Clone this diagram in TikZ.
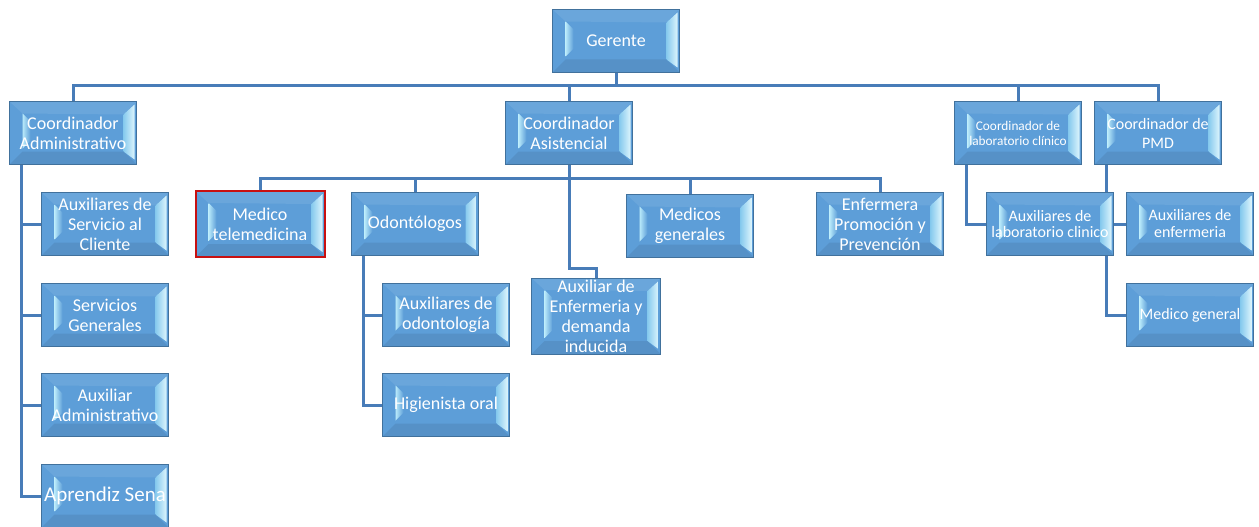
\documentclass[tikz,border=0pt]{standalone}
\usepackage{fontspec}
\setmainfont{Carlito}
\usepackage{tikz}
\usetikzlibrary{positioning,calc,backgrounds}
\definecolor{boxblue}{RGB}{93,158,216}
\definecolor{boxedge}{RGB}{65,113,156}
\definecolor{linkblue}{RGB}{72,124,184}
\definecolor{glowblue}{RGB}{185,234,250}
\definecolor{midblue}{RGB}{135,202,238}
\definecolor{markred}{RGB}{200,16,16}

\begin{document}
\begin{tikzpicture}[x=1pt, y=-1pt,
  cargo/.style={rectangle, draw=boxedge, line width=0.8pt, fill=boxblue,
    minimum width=127pt, minimum height=63pt, inner sep=0pt, align=center,
    text=white, font=\fontsize{18}{20}\selectfont,
    path picture={
      \coordinate (pnw) at (path picture bounding box.north west);
      \coordinate (pse) at (path picture bounding box.south east);
      \coordinate (pne) at (pnw -| pse);
      \coordinate (psw) at (pnw |- pse);
      \fill[boxblue!92!white] (pnw) -- (pne) -- ([shift={(-13pt,-13pt)}]pne) -- ([shift={(13pt,-12pt)}]pnw) -- cycle;
      \fill[boxblue!92!black] (psw) -- (pse) -- ([shift={(-13pt,13pt)}]pse) -- ([shift={(13pt,13pt)}]psw) -- cycle;
      \shade[left color=glowblue, right color=boxblue] ([shift={(13pt,-12pt)}]pnw) -- ([shift={(21pt,-20pt)}]pnw) -- ([shift={(21pt,24pt)}]psw) -- ([shift={(13pt,16pt)}]psw) -- cycle;
      \shade[left color=midblue, right color=glowblue!50!white] ([shift={(-13pt,-13pt)}]pne) -- ([shift={(-2pt,-3pt)}]pne) -- ([shift={(-2pt,5pt)}]pse) -- ([shift={(-13pt,13pt)}]pse) -- cycle;
    }},
  link/.style={draw=linkblue, line width=3pt}]
  \useasboundingbox (0,0) rectangle (1259,527);

  % top level
  \node[cargo] (gerente) at (616,41) {Gerente};
  \node[cargo] (cadmin) at (73,133) {Coordinador\\Administrativo};
  \node[cargo] (casist) at (569,133) {Coordinador\\Asistencial};
  \node[cargo, font=\fontsize{13.3}{15}\selectfont] (clab) at (1018,133) {Coordinador de\\laboratorio clínico};
  \node[cargo, font=\fontsize{16}{19}\selectfont] (cpmd) at (1158,133) {Coordinador de\\PMD};

  % administrative branch
  \node[cargo] (servcliente) at (105,224) {Auxiliares de\\Servicio al\\Cliente};
  \node[cargo] (servgen) at (105,315) {Servicios\\Generales};
  \node[cargo] (auxadmin) at (105,405) {Auxiliar\\Administrativo};
  \node[cargo, font=\fontsize{21}{24}\selectfont] (aprendiz) at (105,496) {Aprendiz Sena};

  % care branch
  \node[cargo, draw=markred, line width=2pt, minimum width=129pt, minimum height=66pt] (telemed) at (260,224) {Medico\\telemedicina};
  \node[cargo] (odont) at (415,224) {Odontólogos};
  \node[cargo, minimum width=129pt, minimum height=76pt] (auxenf) at (596,316) {Auxiliar de\\Enfermeria y\\demanda\\inducida};
  \node[cargo] (medgen) at (690,226) {Medicos\\generales};
  \node[cargo] (enfprom) at (880,224) {Enfermera\\Promoción y\\Prevención};
  \node[cargo] (auxodont) at (446,315) {Auxiliares de\\odontología};
  \node[cargo] (higienista) at (446,405) {Higienista oral};

  % lab and PMD
  \node[cargo, font=\fontsize{16}{16}\selectfont] (auxlab) at (1050,224) {Auxiliares de\\laboratorio clinico};
  \node[cargo, font=\fontsize{16}{17}\selectfont] (auxenfer) at (1190,224) {Auxiliares de\\enfermeria};
  \node[cargo, font=\fontsize{16}{17}\selectfont] (medgral) at (1190,315) {Medico general};

  \begin{scope}[on background layer]
    \draw[link] (gerente.south) -- ++(0,13) -| (cadmin.north);
    \draw[link] (gerente.south) -- ++(0,13) -| (casist.north);
    \draw[link] (gerente.south) -- ++(0,13) -| (clab.north);
    \draw[link] (gerente.south) -- ++(0,13) -| (cpmd.north);

    \draw[link] ([xshift=12pt]cadmin.south west) |- (servcliente.west);
    \draw[link] ([xshift=12pt]cadmin.south west) |- (servgen.west);
    \draw[link] ([xshift=12pt]cadmin.south west) |- (auxadmin.west);
    \draw[link] ([xshift=12pt]cadmin.south west) |- (aprendiz.west);

    \draw[link] (casist.south) -- ++(0,14) -| (telemed.north);
    \draw[link] (casist.south) -- ++(0,14) -| (odont.north);
    \draw[link] (casist.south) -- ++(0,14) -| (medgen.north);
    \draw[link] (casist.south) -- ++(0,14) -| (enfprom.north);
    \draw[link] (casist.south) -- ++(0,104) -| (auxenf.north);

    \draw[link] ([xshift=12pt]odont.south west) |- (auxodont.west);
    \draw[link] ([xshift=12pt]odont.south west) |- (higienista.west);

    \draw[link] ([xshift=12pt]clab.south west) |- (auxlab.west);
    \draw[link] ([xshift=12pt]cpmd.south west) |- (auxenfer.west);
    \draw[link] ([xshift=12pt]cpmd.south west) |- (medgral.west);
  \end{scope}
\end{tikzpicture}
\end{document}
